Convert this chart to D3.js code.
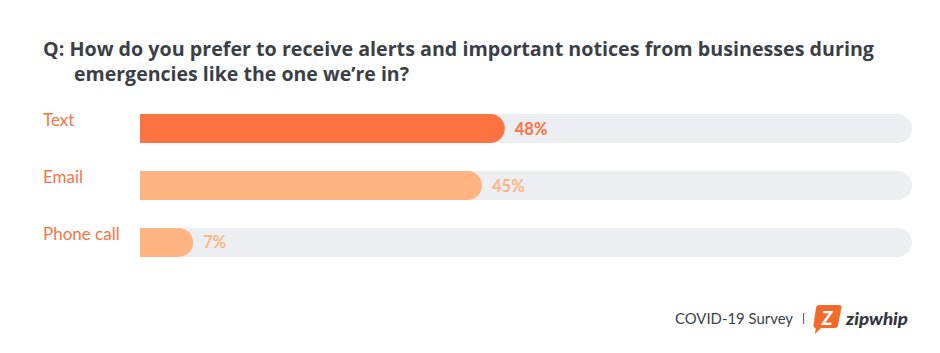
<!DOCTYPE html>
<html>
<head>
<meta charset="utf-8">
<script src="https://cdn.jsdelivr.net/npm/d3@7"></script>
<style>
  body { margin: 0; background: #fff; }
  svg { display: block; font-family: Lato, "Open Sans", sans-serif; }
</style>
</head>
<body>
<svg id="chart" width="940" height="353"></svg>
<script>
// survey data
const categories = ["Text", "Email", "Phone call"];
const values = [48, 45, 7];
const valueLabels = ["48%", "45%", "7%"];
const barColors = ["#fc7341", "#ffb482", "#ffb482"];
const titleLines = [
  "Q: How do you prefer to receive alerts and important notices from businesses during",
  "emergencies like the one we\u2019re in?"
];
const footerText = "COVID-19 Survey";

let svg = d3.select("#chart");

// title
let title = svg.append("g").attr("fill", "#3b3f48")
  .style("font-family", "'Open Sans', sans-serif")
  .style("font-weight", 700).style("font-size", "19px");
title.append("text").attr("x", 43).attr("y", 56).text(titleLines[0])
  .attr("textLength", 831).attr("lengthAdjust", "spacingAndGlyphs");
title.append("text").attr("x", 74).attr("y", 81).text(titleLines[1])
  .attr("textLength", 335).attr("lengthAdjust", "spacingAndGlyphs");

// scales
const x = d3.scaleLinear().domain([0, 100]).range([140, 900]);
const y = d3.scaleBand().domain(categories).range([114, 257]).paddingInner(0.491).paddingOuter(0);
const trackEnd = 912;
const h = y.bandwidth();
const r = h / 2;

// path: square left edge, rounded right end
function pill(x0, x1, y0) {
  const p = d3.path();
  p.moveTo(x0, y0);
  p.lineTo(x1 - r, y0);
  p.arc(x1 - r, y0 + r, r, -Math.PI / 2, Math.PI / 2);
  p.lineTo(x0, y0 + h);
  p.closePath();
  return p.toString();
}

const rows = svg.append("g").selectAll("g")
  .data(categories)
  .enter()
  .append("g");

rows.append("path")
  .attr("fill", "#edeef2")
  .attr("d", d => pill(x(0), trackEnd, y(d)));

rows.append("path")
  .attr("fill", (d, i) => barColors[i])
  .attr("d", (d, i) => pill(x(0), x(values[i]), y(d)));

rows.append("text")
  .attr("x", 43)
  .attr("y", d => y(d) + 12)
  .attr("fill", "#fc7341")
  .style("font-size", "17px")
  .text(d => d);

rows.append("text")
  .attr("x", (d, i) => x(values[i]) + 10)
  .attr("y", d => y(d) + h / 2 + 6)
  .attr("fill", (d, i) => barColors[i])
  .style("font-size", "16.5px")
  .style("font-weight", 700)
  .text((d, i) => valueLabels[i]);

// footer
let foot = svg.append("g");
foot.append("text")
  .attr("x", 675).attr("y", 324)
  .attr("fill", "#3b3f48")
  .style("font-size", "14.5px")
  .attr("textLength", 118).attr("lengthAdjust", "spacingAndGlyphs")
  .text(footerText);
foot.append("rect").attr("x", 803).attr("y", 313).attr("width", 1.2).attr("height", 11).attr("fill", "#6b6f78");

// logo bubble
foot.append("path")
  .attr("fill", "#f26b2c")
  .attr("d", "M819,305 L839,305 Q842,305 841.5,308 L838,325 Q837.5,328 834.5,328 L821,328 L815,334 L815.8,328 Q813,327.5 813.5,325 L816,308 Q816.5,305 819,305 Z");
foot.append("text")
  .attr("x", 827).attr("y", 325)
  .attr("text-anchor", "middle")
  .attr("fill", "#fff")
  .style("font-size", "19px").style("font-weight", 900).style("font-style", "italic")
  .text("Z");
foot.append("text")
  .attr("x", 846).attr("y", 325)
  .attr("fill", "#33363d")
  .style("font-size", "17px").style("font-weight", 900).style("font-style", "italic")
  .attr("textLength", 62).attr("lengthAdjust", "spacingAndGlyphs")
  .text("zipwhip");
</script>
</body>
</html>
